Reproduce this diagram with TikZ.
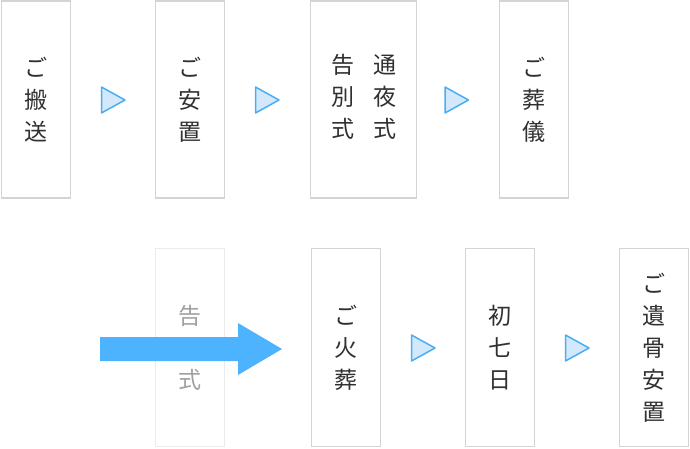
\documentclass[tikz,border=0pt]{standalone}
\usepackage{fontspec}
\usetikzlibrary{calc}
\newfontfamily\jp{Noto Sans CJK JP}
\definecolor{boxline}{HTML}{D4D4D4}
\definecolor{fadeline}{HTML}{EBEBEB}
\definecolor{txt}{HTML}{303030}
\definecolor{fadetxt}{HTML}{A0A0A0}
\definecolor{trifill}{HTML}{D3E8FB}
\definecolor{triline}{HTML}{4AAEF5}
\definecolor{bigarrow}{HTML}{4DB3FF}
\begin{document}
\begin{tikzpicture}[x=1pt,y=-1pt,
  stepbox/.style={draw=boxline, line width=1.9pt, fill=white, minimum width=69pt, minimum height=197pt,
    inner sep=0pt, align=center, text=txt, font=\jp\fontsize{23}{32}\selectfont},
  fadebox/.style={stepbox, draw=fadeline, text=fadetxt},
  tri/.style={fill=trifill, draw=triline, line width=1.5pt, line join=round},
  bigarr/.style={fill=bigarrow, draw=none}]
\useasboundingbox (0,0) rectangle (690,448);
% row 1
\node[stepbox] (hansou) at (36,99.5) {ご\\搬\\送};
\node[stepbox] (anchi) at (190,99.5) {ご\\安\\置};
\node[stepbox, minimum width=106pt] (tsuya) at (363.5,99.5)
  {\begin{tabular}{@{}c@{\hspace{19pt}}c@{}}告&通\\別&夜\\式&式\end{tabular}};
\node[stepbox] (sougi) at (534,99.5) {ご\\葬\\儀};
% row 2
\node[fadebox, minimum height=198pt] (kokubetsu) at (190,347.5) {告\\別\\式};
\node[stepbox, minimum height=198pt] (kasou) at (346,347.5) {ご\\火\\葬};
\node[stepbox, minimum height=198pt] (shonanoka) at (500,347.5) {初\\七\\日};
\node[stepbox, minimum height=198pt] (ikotsu) at (654,347.5) {ご\\遺\\骨\\安\\置};
% small triangles
\foreach \n/\x/\y in {t1/113/100, t2/267/100, t3/456.5/100, t4/423/348, t5/577/348}{
  \coordinate (\n) at (\x,\y);
  \draw[tri] ($(\n)+(-11.5,-13)$) -- ($(\n)+(12,0)$) -- ($(\n)+(-11.5,13)$) -- cycle;
}
% big arrow
\coordinate (bs) at (100,349);
\coordinate (be) at (282,349);
\fill[bigarr] ($(bs)+(0,-12)$) -- ($(be)+(-44,-12)$) -- ($(be)+(-44,-26)$) -- (be)
  -- ($(be)+(-44,26)$) -- ($(be)+(-44,12)$) -- ($(bs)+(0,12)$) -- cycle;
\end{tikzpicture}
\end{document}
